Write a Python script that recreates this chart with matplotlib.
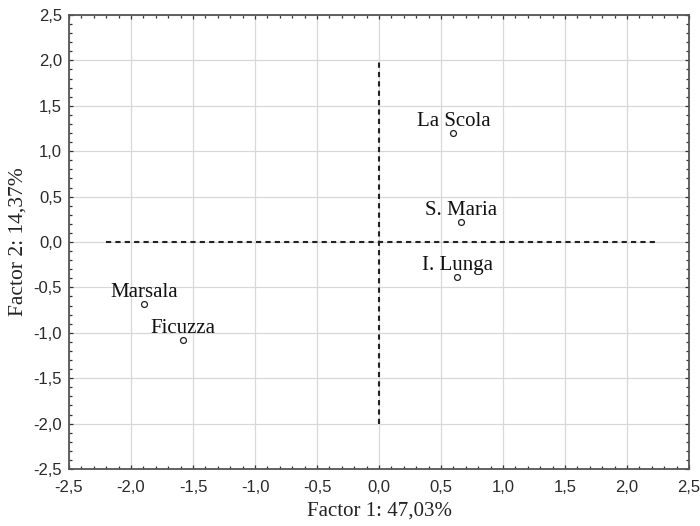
import matplotlib
matplotlib.use("Agg")
import matplotlib.pyplot as plt
from matplotlib.ticker import MultipleLocator, FuncFormatter

# PCA scores
sites = ["La Scola", "S. Maria", "I. Lunga", "Marsala", "Ficuzza"]
factor1 = [0.60, 0.66, 0.63, -1.895, -1.58]
factor2 = [1.20, 0.22, -0.39, -0.68, -1.08]

SANS = ["Liberation Sans", "DejaVu Sans"]
SERIF = ["Liberation Serif", "DejaVu Serif"]

fig = plt.figure(figsize=(7.0, 5.26), dpi=100)
ax = fig.add_axes([0.0986, 0.1084, 0.8857, 0.8631])

ax.set_xlim(-2.5, 2.5)
ax.set_ylim(-2.5, 2.5)
ax.xaxis.set_major_locator(MultipleLocator(0.5))
ax.yaxis.set_major_locator(MultipleLocator(0.5))
ax.xaxis.set_minor_locator(MultipleLocator(0.1))
ax.yaxis.set_minor_locator(MultipleLocator(0.1))
fmt = FuncFormatter(lambda v, p: f"{v:.1f}".replace(".", ",").replace("-0,0", "0,0"))
ax.xaxis.set_major_formatter(fmt)
ax.yaxis.set_major_formatter(fmt)
ax.tick_params(which="both", direction="in", top=True, right=True, color="#333333")
ax.tick_params(which="major", length=3, width=0.9)
ax.tick_params(which="minor", length=2.5, width=0.9)
ax.tick_params(axis="x", which="major", pad=8)
ax.tick_params(axis="y", which="major", pad=5)
for lab in ax.get_xticklabels() + ax.get_yticklabels():
    lab.set_fontfamily(SANS)
    lab.set_fontsize(12)
    lab.set_color("#2a2a2a")

ax.grid(True, which="major", color="#d8d8d8", linewidth=0.9)
ax.set_axisbelow(True)
for s in ax.spines.values():
    s.set_color("#555555")
    s.set_linewidth(1.3)

# dashed reference axes
ax.plot([-2.2, 2.25], [0, 0], color="#222222", linestyle=(0, (2.5, 2)), linewidth=1.5)
ax.plot([0, 0], [-2.0, 2.0], color="#222222", linestyle=(0, (2.5, 2)), linewidth=1.5)

ax.scatter(factor1, factor2, s=18, facecolor="white", edgecolor="#222222", linewidth=0.9, zorder=3)
for name, x, y in zip(sites, factor1, factor2):
    ax.annotate(name, (x, y), xytext=(0, 5), textcoords="offset points",
                ha="center", va="baseline", fontsize=15, color="#111111",
                fontfamily=SERIF)

ax.set_xlabel("Factor 1: 47,03%", fontfamily=SERIF, fontsize=15, color="#222222", labelpad=5)
ax.set_ylabel("Factor 2: 14,37%", fontfamily=SERIF, fontsize=15.5, color="#222222", labelpad=4)

fig.savefig("out.png", dpi=100)
